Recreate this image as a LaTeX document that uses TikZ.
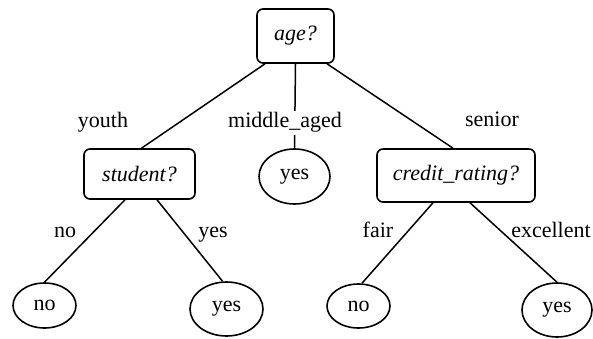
\documentclass[tikz,border=0pt]{standalone}
\usepackage{fontspec}
\setmainfont{Liberation Serif}
\usetikzlibrary{shapes.geometric}
\begin{document}
\begin{tikzpicture}[x=1pt,y=-1pt,
  every node/.style={font=\fontsize{22}{26}\selectfont, text=black},
  test/.style={draw, line width=1.6pt, rounded corners=6pt, inner sep=0pt, font=\fontsize{22}{26}\selectfont\itshape},
  leaf/.style={draw, ellipse, line width=1.6pt, inner sep=0pt},
  branch/.style={anchor=base, inner sep=1pt},
  link/.style={line width=1.5pt}]
\useasboundingbox[fill=white] (0,0) rectangle (593,339);

% decision nodes
\node[test, minimum width=77pt, minimum height=54pt] (age) at (295.5,36) {age?};
\node[test, minimum width=111pt, minimum height=50pt] (student) at (139.5,174) {student?};
\node[test, minimum width=158pt, minimum height=53pt] (credit) at (456,175.5) {credit\_rating?};

% leaves
\node[leaf, minimum width=71pt, minimum height=55pt] (myes) at (294.5,176.5) {yes};
\node[leaf, minimum width=63pt, minimum height=45pt] (sno) at (44.5,305.5) {no};
\node[leaf, minimum width=73pt, minimum height=54pt] (syes) at (226.5,309) {yes};
\node[leaf, minimum width=63pt, minimum height=44pt] (cno) at (358.5,306) {no};
\node[leaf, minimum width=70pt, minimum height=54pt] (cyes) at (557,310) {yes};

% branches
\draw[link] ([xshift=-30.5pt]age.south) -- ([xshift=2pt]student.north);
\draw[link] ([xshift=31.5pt]age.south) -- ([xshift=-3pt]credit.north);
\draw[link] ([xshift=-14.5pt]student.south) -- (sno.north);
\draw[link] ([xshift=17.5pt]student.south) -- ([xshift=-4pt]syes.north);
\draw[link] ([xshift=-23pt]credit.south) -- ([xshift=3.5pt]cno.north);
\draw[link] ([xshift=14pt]credit.south) -- (cyes.north);
\draw[link] (age.south) -- (myes.north);

% branch labels
\node[branch] (lyouth) at (103,128) {youth};
\node[branch, fill=white, inner sep=2pt] (lmiddle) at (285,128) {middle\_aged};
\node[branch] (lsenior) at (492,127) {senior};
\node[branch] (lsno) at (65,237) {no};
\node[branch] (lsyes) at (213,237) {yes};
\node[branch] (lfair) at (378,237) {fair};
\node[branch] (lexc) at (551,237) {excellent};
\end{tikzpicture}
\end{document}
